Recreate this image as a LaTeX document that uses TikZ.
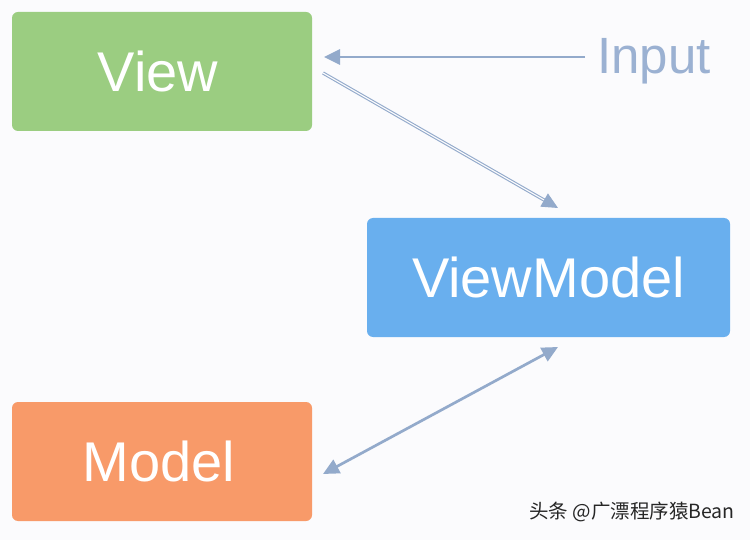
\documentclass[tikz,border=0pt]{standalone}
\usepackage{fontspec}
\setmainfont{Liberation Sans}
\newfontfamily\cjk{Noto Sans CJK SC}
\usetikzlibrary{arrows.meta}
\definecolor{bgc}{HTML}{FBFBFD}
\definecolor{viewc}{HTML}{9BCD81}
\definecolor{vmc}{HTML}{69AFEE}
\definecolor{modelc}{HTML}{F89A69}
\definecolor{arrc}{HTML}{93AACB}
\definecolor{inputc}{HTML}{9BB1D2}
\begin{document}
\begin{tikzpicture}[x=1pt,y=-1pt,
  box/.style={rounded corners=6pt, inner sep=0pt, text=white,
    font=\fontsize{56}{60}\selectfont},
  conn/.style={draw=arrc, line width=2.7pt, -{Triangle[length=16pt,width=15pt]}},
  dconn/.style={draw=arrc, line width=2.7pt, {Triangle[length=16pt,width=15pt]}-{Triangle[length=16pt,width=15pt]}},
  dblconn/.style={draw=arrc, double=bgc, line width=1.1pt, double distance=1.1pt,
    -{Triangle[length=16pt,width=15pt,fill=arrc]}}]
\fill[bgc] (0,0) rectangle (750,540);
\useasboundingbox (0,0) rectangle (750,540);
\node[box, fill=viewc, minimum width=300pt, minimum height=119pt] (view) at (162,71.5) {\hspace*{-8pt}View};
\node[box, fill=vmc, minimum width=363pt, minimum height=119pt] (vm) at (548.5,277.5) {ViewModel};
\node[box, fill=modelc, minimum width=300pt, minimum height=119pt] (model) at (162,461.5) {\hspace*{-6pt}Model};
\node[anchor=base west, inner sep=0pt, text=inputc, font=\fontsize{51}{54}\selectfont] (input) at (597,74) {Input};
\coordinate (inEnd) at (585,57);
\coordinate (viewIn) at (324,57);
\coordinate (viewOut) at (323,73);
\coordinate (vmIn) at (558,208);
\coordinate (vmOut) at (558,347);
\coordinate (modelIn) at (323,474);
\draw[conn] (inEnd) -- (viewIn);
\draw[dblconn] (viewOut) -- (vmIn);
\draw[dconn] (modelIn) -- (vmOut);
\node[anchor=base east, inner sep=0pt, font=\cjk\fontsize{19.5}{22}\selectfont, text=black!85] (wm) at (735,518) {头条 @广漂程序猿Bean};
\end{tikzpicture}
\end{document}
